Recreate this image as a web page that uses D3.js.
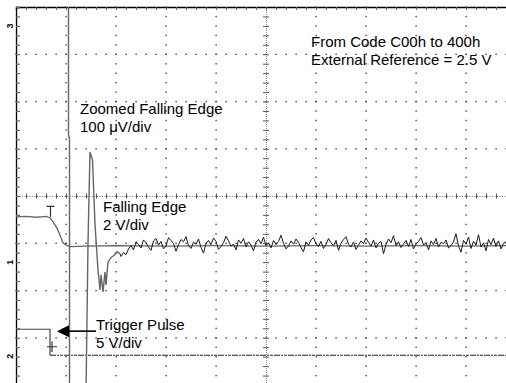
<!DOCTYPE html>
<html><head><meta charset="utf-8">
<script src="https://cdn.jsdelivr.net/npm/d3@7"></script>
<style>
html,body{margin:0;padding:0;background:#fff;}
svg{display:block;font-family:"Liberation Sans",Arial,sans-serif;}
</style></head>
<body><svg id="c" width="506" height="383"></svg>
<script>
// ---- data (time and amplitude in screen divisions) ----
const xDivs = [-5,-4,-3,-2,-1,0,1,2,3,4,5];
const yDivs = [-4,-3,-2,-1,0,1,2,3,4];
// Falling edge, 2 V/div
const edgeT = [-5,-4.8,-4.6,-4.5,-4.4,-4.32,-4.26,-4.18,-4.12,-4.06,-3.98,-3.9,-3.6,-3.0,-2.0,-1.0,0,1.0,2.0,3.0,4.0,4.9];
const edgeV = [-0.44,-0.43,-0.45,-0.44,-0.43,-0.46,-0.55,-0.68,-0.83,-0.99,-1.05,-1.07,-1.06,-1.05,-1.06,-1.05,-1.06,-1.05,-1.06,-1.05,-1.06,-1.05];
// Trigger pulse, 5 V/div
const trigT = [-5,-4.32,-4.32,4.9];
const trigV = [-2.82,-2.82,-3.37,-3.37];
// Zoomed falling edge, 100 uV/div : overshoot part
const zoomT = [-3.95,-3.95,-3.93,-3.93,-3.60,-3.56,-3.52,-3.47,-3.42,-3.36,-3.32,-3.30,-3.26,-3.22,-3.20,-3.16,-3.10,-3.04,-2.98,-2.92];
const zoomV = [4.2,1.3,1.2,-4.2,-4.2,-1.0,0.93,0.76,-0.6,-1.57,-1.99,-1.67,-2.03,-1.61,-1.88,-1.40,-1.30,-1.26,-1.18,-1.22];
// Zoomed trace settled noise, starting at t=-2.9 every 0.05 div
const noiseStart = -2.9, noiseStep = 0.05;
const noiseV = [
-1.28,-1.20,-1.24,-1.12,-1.05,-1.14,-0.97,-1.02,-1.10,-0.93,
-0.99,-1.08,-1.15,-0.95,-0.90,-1.04,-0.96,-1.12,-1.06,-0.88,
-0.94,-1.01,-1.17,-1.03,-0.92,-0.97,-0.86,-1.05,-1.11,-0.98,
-1.02,-0.91,-1.09,-1.21,-1.00,-0.94,-1.03,-0.89,-0.96,-1.13,
-1.07,-0.99,-0.85,-0.95,-1.06,-1.02,-1.14,-0.93,-1.00,-0.90,
-1.08,-0.97,-1.04,-1.16,-0.98,-0.92,-1.01,-0.87,-1.05,-0.99,
-1.10,-0.94,-1.03,-0.96,-0.83,-1.00,-1.12,-1.06,-0.95,-1.02,
-0.91,-0.98,-1.09,-1.18,-0.97,-1.04,-0.93,-0.88,-1.01,-1.07,
-0.96,-1.11,-1.03,-0.90,-0.99,-1.05,-0.94,-1.15,-1.00,-0.92,
-0.86,-1.02,-1.08,-0.97,-1.13,-1.04,-0.95,-1.01,-0.89,-0.98,
-1.06,-0.93,-1.10,-1.00,-0.96,-1.22,-1.03,-0.91,-0.99,-0.84,
-1.05,-0.97,-1.09,-1.01,-0.94,-1.07,-0.92,-1.12,-1.02,-0.96,
-0.88,-1.04,-0.99,-1.14,-0.95,-1.03,-0.90,-1.08,-0.98,-1.01,
-0.93,-1.10,-1.05,-0.97,-0.80,-1.06,-1.19,-0.94,-1.02,-0.87,
-1.11,-0.96,-1.04,-0.82,-1.08,-0.99,-1.16,-0.92,-1.03,-0.89,
-1.07,-0.95,-1.12,-1.00,-0.97,-1.05,-0.93];
const labelZoom = ["Zoomed Falling Edge","100 \u03bcV/div"];
const labelEdge = ["Falling Edge","2 V/div"];
const labelTrig = ["Trigger Pulse","5 V/div"];
const labelInfo = ["From Code C00h to 400h","External Reference = 2.5 V"];

// ---- scales ----
const svg = d3.select("#c");
const x = d3.scaleLinear().domain([-5,5]).range([16,516]);
const y = d3.scaleLinear().domain([-4,4]).range([385,7]);
const minorT = d3.range(-25,26).map(i=>i/5);
const minorV = d3.range(-20,21).map(i=>i/5);

// ---- graticule ----
const g = svg.append("g");
yDivs.filter(v=>v!==0 && v!==4).forEach(v=>{
  g.selectAll(null).data(minorT).enter().append("rect")
    .attr("x",d=>x(d)-0.6).attr("y",y(v)-0.6).attr("width",1.4).attr("height",1.4).attr("fill","#444");
});
xDivs.filter(t=>t!==0 && t!==-5).forEach(t=>{
  g.selectAll(null).data(minorV).enter().append("rect")
    .attr("x",x(t)-0.6).attr("y",d=>y(d)-0.6).attr("width",1.4).attr("height",1.4).attr("fill","#444");
});
const ax = g.append("g").attr("transform",`translate(0,${y(0)})`)
  .call(d3.axisBottom(x).tickValues(minorT).tickSize(2.5).tickFormat(""));
ax.selectAll(".tick line").attr("y1",-2.5).attr("stroke","#555");
ax.select(".domain").attr("stroke","#777").attr("stroke-dasharray","1,1.5");
const ay = g.append("g").attr("transform",`translate(${x(0)},0)`)
  .call(d3.axisLeft(y).tickValues(minorV).tickSize(3).tickFormat(""));
ay.selectAll(".tick line").attr("x1",3).attr("stroke","#555");
ay.select(".domain").attr("stroke","#888").attr("stroke-dasharray","1,1");
const at = g.append("g").attr("transform",`translate(0,${y(4)})`)
  .call(d3.axisBottom(x).tickValues(minorT).tickSize(3).tickFormat(""));
at.select(".domain").attr("stroke","#000").attr("stroke-width",1.3);
at.selectAll(".tick line").attr("stroke","#666");
const al = g.append("g").attr("transform",`translate(${x(-5)},0)`)
  .call(d3.axisRight(y).tickValues(minorV).tickSize(4).tickFormat(""));
al.select(".domain").attr("stroke","#000").attr("stroke-width",1.3);
al.selectAll(".tick line").attr("stroke","#666").attr("stroke-width",1.2);

// ---- traces ----
const line = d3.line().x(d=>x(d[0])).y(d=>y(d[1]));
svg.append("clipPath").attr("id","clp").append("rect")
  .attr("x",x(-5)).attr("y",y(4)).attr("width",506-x(-5)).attr("height",383-y(4));
const tr = svg.append("g").attr("clip-path","url(#clp)");

tr.append("path").datum(edgeT.map((t,i)=>[t,edgeV[i]]))
  .attr("d",line).attr("fill","none").attr("stroke","#666").attr("stroke-width",1.3);

tr.append("path").datum(trigT.slice(0,3).map((t,i)=>[t,trigV[i]]))
  .attr("d",line).attr("fill","none").attr("stroke","#444").attr("stroke-width",1.2);
tr.append("path").datum(trigT.slice(2).map((t,i)=>[t,trigV[i+2]]))
  .attr("d",line).attr("fill","none").attr("stroke","#222").attr("stroke-width",1.2)
  .attr("stroke-dasharray","6,1,2,1,3,1");

tr.append("path").datum(zoomT.map((t,i)=>[t,zoomV[i]]))
  .attr("d",line).attr("fill","none").attr("stroke","#666").attr("stroke-width",1.4);
const noisePts = [[zoomT[zoomT.length-1],zoomV[zoomV.length-1]]].concat(noiseV.map((v,i)=>[noiseStart+i*noiseStep,v]));
tr.append("path").datum(noisePts)
  .attr("d",line).attr("fill","none").attr("stroke","#1a1a1a").attr("stroke-width",1);

// trigger markers
const mkT = tr.append("g").attr("stroke","#333").attr("stroke-width",1.2).attr("fill","none");
mkT.append("path").attr("d",`M${x(-4.39)},${y(-0.22)}H${x(-4.23)}M${x(-4.31)},${y(-0.22)}V${y(-0.44)}`);
mkT.append("path").attr("d",`M${x(-4.38)},${y(-3.19)}H${x(-4.18)}M${x(-4.28)},${y(-3.08)}V${y(-3.30)}`);

// ---- arrow ----
const ar = svg.append("g");
ar.append("line").attr("x1",x(-3.4)).attr("x2",x(-3.94)).attr("y1",y(-2.86)).attr("y2",y(-2.86))
  .attr("stroke","#000").attr("stroke-width",1.6);
ar.append("path").attr("d",`M${x(-4.18)},${y(-2.86)}L${x(-3.94)},${y(-2.86)-6}L${x(-3.94)},${y(-2.86)+6}Z`).attr("fill","#000");

// ---- channel markers ----
const mk = svg.append("g").attr("font-size",9).attr("font-weight","bold").attr("fill","#000");
[["3",3.6],["1",-1.4],["2",-3.39]].forEach(m=>{
  mk.append("text").attr("transform",`translate(${x(-5)-3},${y(m[1])}) rotate(-90)`)
    .attr("text-anchor","middle").text(m[0]);
});

// ---- labels ----
const tx = svg.append("g").attr("font-size",15).attr("fill","#000");
function block(lines,px,py){
  lines.forEach((s,i)=>tx.append("text").attr("x",px).attr("y",py+i*17.5).text(s));
}
block(labelZoom,80,114);
block(labelEdge,103,212);
block(labelTrig,96,330);
block(labelInfo,311,47);
</script></body></html>
